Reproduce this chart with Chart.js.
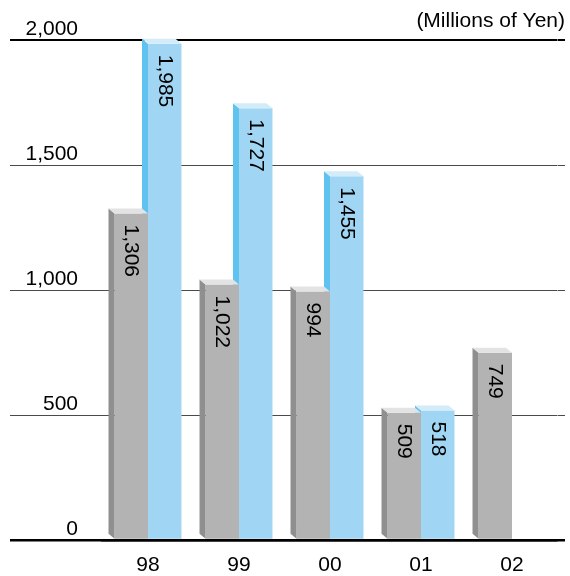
<!DOCTYPE html>
<html>
<head>
<meta charset="utf-8">
<script src="https://cdn.jsdelivr.net/npm/chart.js@4.4.1/dist/chart.umd.min.js"></script>
<style>
  html, body { margin: 0; padding: 0; background: #ffffff; }
  #wrap { width: 570px; height: 576px; }
</style>
</head>
<body>
<div id="wrap"><canvas id="chart" width="570" height="576"></canvas></div>
<script>
// Fiscal years and amounts (millions of yen)
const categories = ['98', '99', '00', '01', '02'];
const grayValues = [1306, 1022, 994, 509, 749];
const blueValues = [1985, 1727, 1455, 518, null];
const yTicks = [0, 500, 1000, 1500, 2000];
const unitLabel = '(Millions of Yen)';

const FONT = '"Liberation Sans", Arial, Helvetica, sans-serif';
const FONT_SIZE = 21;
const fmt = v => Number(v).toLocaleString('en-US');

// Colours of the front, side and top faces for each series
const faceColors = [
  { front: '#b3b3b3', side: '#8f8f8f', top: '#e3e3e3' },
  { front: '#a0d6f3', side: '#5fc2ef', top: '#d3ecfa' }
];
const DEPTH_X = 6, DEPTH_Y = 5;

// Adds a side and a top face to each bar, right after its dataset is drawn
const bar3d = {
  id: 'bar3d',
  afterDatasetDraw(chart, args) {
    const ctx = chart.ctx;
    const f = faceColors[args.index];
    const data = chart.data.datasets[args.index].data;
    args.meta.data.forEach((el, i) => {
      if (data[i] == null) return;
      const { x, y, base, width } = el.getProps(['x', 'y', 'base', 'width'], true);
      const l = x - width / 2, r = x + width / 2;
      ctx.save();
      ctx.fillStyle = f.side;
      ctx.beginPath();
      ctx.moveTo(l - DEPTH_X, y - DEPTH_Y);
      ctx.lineTo(l, y);
      ctx.lineTo(l, base);
      ctx.lineTo(l - DEPTH_X, base - DEPTH_Y);
      ctx.closePath();
      ctx.fill();
      ctx.fillStyle = f.top;
      ctx.beginPath();
      ctx.moveTo(l - DEPTH_X, y - DEPTH_Y);
      ctx.lineTo(r - DEPTH_X, y - DEPTH_Y);
      ctx.lineTo(r, y);
      ctx.lineTo(l, y);
      ctx.closePath();
      ctx.fill();
      ctx.restore();
    });
  }
};

// Vertical value labels inside the top of each bar
const valueLabels = {
  id: 'valueLabels',
  afterDatasetsDraw(chart) {
    const ctx = chart.ctx;
    chart.data.datasets.forEach((ds, di) => {
      const meta = chart.getDatasetMeta(di);
      meta.data.forEach((el, i) => {
        const v = ds.data[i];
        if (v == null) return;
        const { x, y } = el.getProps(['x', 'y'], true);
        ctx.save();
        ctx.translate(x, y + 11);
        ctx.rotate(Math.PI / 2);
        ctx.font = FONT_SIZE + 'px ' + FONT;
        ctx.fillStyle = '#000000';
        ctx.textAlign = 'left';
        ctx.textBaseline = 'middle';
        ctx.fillText(fmt(v), 0, 0);
        ctx.restore();
      });
    });
  }
};

const isEdge = v => v === yTicks[0] || v === yTicks[yTicks.length - 1];
const gridColor = c => isEdge(c.tick.value) ? '#000000' : '#4a4a4a';
const gridWidth = c => c.tick.value === yTicks[0] ? 2.5 : (isEdge(c.tick.value) ? 2 : 1);

new Chart(document.getElementById('chart'), {
  type: 'bar',
  data: {
    labels: categories,
    datasets: [
      { data: grayValues, backgroundColor: faceColors[0].front, borderWidth: 0 },
      { data: blueValues, backgroundColor: faceColors[1].front, borderWidth: 0 }
    ]
  },
  options: {
    responsive: false,
    animation: false,
    locale: 'en-US',
    layout: { padding: { left: 10, right: 5, top: 0, bottom: 0 } },
    datasets: { bar: { categoryPercentage: 0.736, barPercentage: 1 } },
    plugins: {
      legend: { display: false },
      tooltip: { enabled: false },
      title: {
        display: true,
        text: unitLabel,
        align: 'end',
        color: '#000000',
        font: { family: FONT, size: FONT_SIZE, weight: 'normal' },
        padding: { top: 9, bottom: 5.8 }
      }
    },
    scales: {
      x: {
        grid: { display: false, drawTicks: false },
        border: { display: true, color: '#000000', width: 2.5, z: 1 },
        ticks: { color: '#000000', font: { family: FONT, size: FONT_SIZE }, padding: 12.4 },
        afterFit: s => { s.height = 36; }
      },
      y: {
        min: yTicks[0],
        max: yTicks[yTicks.length - 1],
        afterBuildTicks: s => { s.ticks = yTicks.map(v => ({ value: v })); },
        grid: { color: gridColor, lineWidth: gridWidth, tickLength: 92.5 },
        border: { display: false },
        ticks: {
          color: '#000000',
          font: { family: FONT, size: FONT_SIZE },
          padding: -68,
          labelOffset: -11,
          callback: v => fmt(v)
        },
        afterFit: s => { s.width = 92.5; }
      },
      yR: {
        position: 'right',
        min: yTicks[0],
        max: yTicks[yTicks.length - 1],
        afterBuildTicks: s => { s.ticks = yTicks.map(v => ({ value: v })); },
        grid: { drawOnChartArea: false, color: gridColor, lineWidth: gridWidth, tickLength: 7.5 },
        border: { display: false },
        ticks: { display: false },
        afterFit: s => { s.width = 7.5; }
      }
    }
  },
  plugins: [bar3d, valueLabels]
});
</script>
</body>
</html>
